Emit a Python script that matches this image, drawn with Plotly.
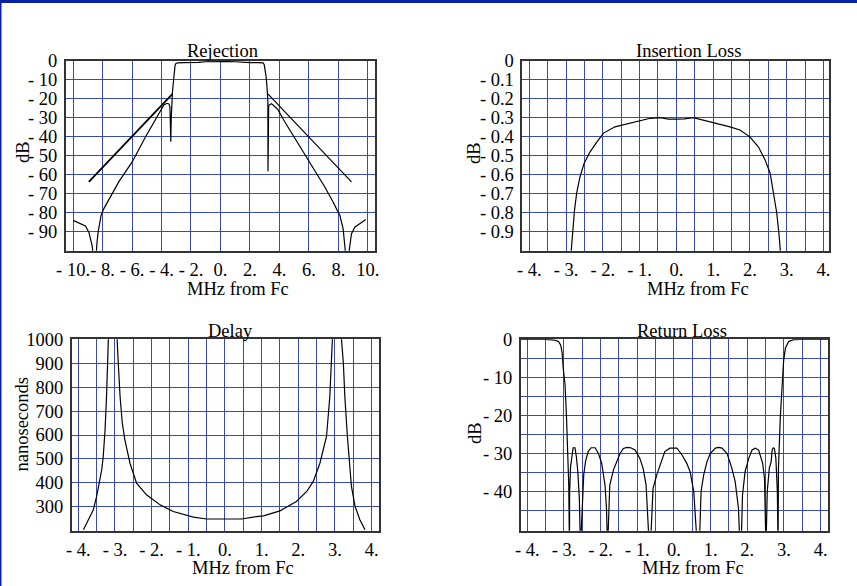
import plotly.graph_objects as go

W, H = 857, 586

# ---------------- data ----------------
# Rejection (dB vs MHz from Fc)
rej_freq = [-10.0, -9.61, -9.16, -8.93, -8.71, -8.6, -8.45, -8.38, -8.30, -8.1, -7.91, -6.9, -5.99, -5.08,
            -4.52, -4.06, -3.84, -3.62, -3.50, -3.43, -3.39, -3.37, -3.34, -3.30, -3.25, -3.20, -3.14,
            -3.08, -3.02, -2.9, -2.5, -2.0, -1.5, -1.0, -0.5, 0.0, 0.5, 1.0, 1.5, 2.0, 2.5, 2.89,
            2.97, 3.03, 3.10, 3.15, 3.19, 3.215, 3.225, 3.24, 3.27, 3.34, 3.45, 3.57, 3.91, 4.36, 5.27,
            6.17, 7.08, 7.64, 8.1, 8.32, 8.44, 8.52, 8.66, 8.78, 8.89, 9.11, 9.46, 9.86]
rej_db = [-84.0, -85.4, -87.0, -90.2, -97.2, -104, -104, -96, -90.2, -81.4, -77.8, -63.7, -53.2, -39.9,
          -32.0, -25.8, -23.2, -22.3, -22.6, -24.0, -32.0, -42.6, -30.0, -20.0, -15.5, -11.7, -4.7,
          -2.2, -1.3, -1.0, -0.9, -0.9, -0.7, -0.4, -0.3, -0.3, -0.3, -0.4, -0.7, -0.9, -0.9, -1.0,
          -2.0, -4.5, -8.5, -13.0, -17.5, -21.0, -58.1, -30.0, -23.5, -23.0, -22.5, -23.2, -25.8, -32.0, -43.5,
          -54.9, -66.4, -74.3, -81.4, -88.4, -95.5, -104, -104, -95.5, -91.0, -87.6, -85.8, -83.6]
mask_left_freq = [-8.93, -3.27]
mask_left_db = [-63.7, -17.5]
mask_right_freq = [3.23, 8.89]
mask_right_db = [-17.5, -63.7]

# Insertion loss
il_freq = [-2.88, -2.82, -2.77, -2.71, -2.62, -2.51, -2.35, -2.16, -1.98, -1.67, -1.26, -0.99, -0.71,
           -0.44, -0.22, 0.0, 0.22, 0.46, 0.73, 1.0, 1.46, 1.73, 2.0, 2.23, 2.41, 2.55, 2.64, 2.73,
           2.79, 2.85]
il_db = [-1.05, -0.89, -0.786, -0.695, -0.61, -0.54, -0.48, -0.426, -0.38, -0.347, -0.329, -0.315,
         -0.302, -0.299, -0.306, -0.306, -0.305, -0.299, -0.311, -0.325, -0.347, -0.364, -0.40, -0.452,
         -0.52, -0.59, -0.70, -0.80, -0.91, -1.05]

# Group delay (ns)
delay_freq = [-3.86, -3.73, -3.59, -3.50, -3.41, -3.36, -3.32, -3.27, -3.23, -3.20, -3.18, -3.16, None,
              -2.92, -2.94, -2.91, -2.86, -2.80, -2.73, -2.59, -2.41, -2.14, -1.77, -1.41, -0.86, -0.5,
              0.0, 0.45, 0.77, 1.05, 1.5, 1.95, 2.23, 2.41, 2.59, 2.77, 2.86, 2.91, 2.94, 2.96, None,
              3.16, 3.18, 3.23, 3.27, 3.34, 3.39, 3.45, 3.55, 3.68, 3.82]
delay_ns = [204, 246, 287, 343, 413, 455, 510, 621, 760, 900, 997, 1100, None,
            1100, 997, 900, 760, 650, 580, 482, 399, 350, 308, 280, 257, 249,
            249, 249, 257, 262, 283, 322, 364, 406, 482, 594, 760, 900, 997, 1100, None,
            1100, 997, 900, 760, 594, 482, 385, 301, 246, 204]

# Return loss
rl_freq = [-4.18, -3.5, -3.25, -3.15, -3.09, -3.05, -3.02, -2.97, -2.93, -2.90, -2.87, -2.85,
           -2.845, -2.82, -2.78, -2.75, -2.70, -2.66, -2.62, -2.58, -2.55,
           -2.50, -2.46, -2.41, -2.34, -2.26, -2.15, -2.06, -1.97, -1.88, -1.84, -1.81,
           -1.78, -1.75, -1.65, -1.56, -1.47, -1.38, -1.28, -1.18, -1.06, -0.93, -0.84, -0.76, -0.71, -0.67, -0.63,
           -0.57, -0.47, -0.38, -0.25, -0.11, 0.0, 0.08, 0.22, 0.35, 0.44, 0.54, 0.62, 0.66, 0.70,
           0.74, 0.81, 0.9, 0.99, 1.13, 1.22, 1.31, 1.45, 1.58, 1.67, 1.76, 1.79, 1.815, 1.84,
           1.87, 1.94, 2.04, 2.13, 2.22, 2.31, 2.35, 2.42, 2.47, 2.51,
           2.545, 2.6, 2.65, 2.68, 2.71, 2.74, 2.78, 2.82, 2.84,
           2.85, 2.9, 2.95, 2.99, 3.04, 3.13, 3.26, 3.5, 4.21]
rl_db = [0, 0, -0.2, -0.6, -1.5, -3.5, -7.6, -12, -20.7, -29.5, -38, -55,
         -40, -33.5, -30, -28.5, -28.5, -31, -35, -42, -55,
         -42, -35.5, -32, -29.5, -28.5, -28.5, -30, -32.6, -38.3, -44.4, -55,
         -44, -38.3, -34.3, -32.2, -30, -28.7, -28.4, -28.5, -29.1, -31.3, -33.9, -38.3, -52, -55, -52,
         -39.2, -35.7, -33, -29.5, -28.6, -28.5, -28.6, -30.4, -32.6, -34.8, -40, -52, -55, -52,
         -40, -35.7, -32.2, -30, -28.6, -28.4, -28.6, -30, -33.9, -37.4, -44.4, -52, -55, -52,
         -40.9, -34.8, -31.3, -29.1, -28.6, -29.1, -30.4, -32.6, -36.5, -55,
         -40, -33.9, -32.2, -29, -28.5, -28.7, -31.3, -40, -55,
         -34, -20.7, -12, -5.8, -2.3, -0.6, -0.1, 0, 0]

# ticks
rej_xticks = [-10, -8, -6, -4, -2, 0, 2, 4, 6, 8, 10]
rej_xlabels = ["- 10.", "- 8.", "- 6.", "- 4.", "- 2.", "0.", "2.", "4.", "6.", "8.", "10."]
rej_yticks = [0, -10, -20, -30, -40, -50, -60, -70, -80, -90]
rej_ylabels = ["0", "- 10", "- 20", "- 30", "- 40", "- 50", "- 60", "- 70", "- 80", "- 90"]

half_ticks = [-4, -3.5, -3, -2.5, -2, -1.5, -1, -0.5, 0, 0.5, 1, 1.5, 2, 2.5, 3, 3.5, 4]
half_labels = ["- 4.", "", "- 3.", "", "- 2.", "", "- 1.", "", "0.", "", "1.", "", "2.", "", "3.", "", "4."]

il_yticks = [0, -0.1, -0.2, -0.3, -0.4, -0.5, -0.6, -0.7, -0.8, -0.9]
il_ylabels = ["0", "- 0.1", "- 0.2", "- 0.3", "- 0.4", "- 0.5", "- 0.6", "- 0.7", "- 0.8", "- 0.9"]

delay_yticks = [300, 400, 500, 600, 700, 800, 900, 1000]
delay_ylabels = ["300", "400", "500", "600", "700", "800", "900", "1000"]

rl_yticks = [0, -5, -10, -15, -20, -25, -30, -35, -40, -45]
rl_ylabels = ["0", "", "- 10", "", "- 20", "", "- 30", "", "- 40", ""]

# ---------------- figure ----------------
FONT = "Liberation Serif"
FS = 18.5
GRID = "#3a4bb0"
LINE = dict(color="black", width=1.2)


def px_x(v):
    return v / W


def px_y(v):
    return 1 - v / H


fig = go.Figure()
fig.add_trace(go.Scatter(x=rej_freq, y=rej_db, mode="lines", line=LINE, xaxis="x", yaxis="y"))
fig.add_trace(go.Scatter(x=mask_left_freq, y=mask_left_db, mode="lines", line=dict(color="black", width=1.8),
                         xaxis="x", yaxis="y"))
fig.add_trace(go.Scatter(x=mask_right_freq, y=mask_right_db, mode="lines", line=LINE, xaxis="x", yaxis="y"))
fig.add_trace(go.Scatter(x=il_freq, y=il_db, mode="lines", line=LINE, xaxis="x2", yaxis="y2"))
fig.add_trace(go.Scatter(x=delay_freq, y=delay_ns, mode="lines", line=LINE, connectgaps=False,
                         xaxis="x3", yaxis="y3"))
fig.add_trace(go.Scatter(x=rl_freq, y=rl_db, mode="lines", line=LINE, xaxis="x4", yaxis="y4"))


def axis(domain, rng, tickvals, ticktext, anchor, is_x):
    return dict(
        domain=domain, range=rng, anchor=anchor,
        tickmode="array", tickvals=tickvals, ticktext=ticktext,
        showline=True, linecolor="#333333", linewidth=1.5, mirror=True,
        showgrid=True, gridcolor=GRID, gridwidth=1.3, zeroline=False,
        ticks="outside", ticklen=1 if is_x else 3, tickcolor="rgba(0,0,0,0)",
        tickangle=0,
        tickfont=dict(family=FONT, size=FS, color="black"),
        automargin=False, fixedrange=True,
    )


# plot area boxes in pixels: (left, right, top, bottom)
boxes = {
    1: (65.7, 374.5, 61.0, 250.7),
    2: (522.3, 829.3, 61.0, 250.7),
    3: (71.7, 379.3, 339.3, 530.7),
    4: (520.7, 828.3, 339.3, 530.7),
}


def dom(k):
    l, r, t, b = boxes[k]
    return [px_x(l), px_x(r)], [px_y(b), px_y(t)]


dx1, dy1 = dom(1)
dx2, dy2 = dom(2)
dx3, dy3 = dom(3)
dx4, dy4 = dom(4)

fig.update_layout(
    width=W, height=H,
    margin=dict(l=0, r=0, t=0, b=0),
    paper_bgcolor="white", plot_bgcolor="white",
    showlegend=False,
    font=dict(family=FONT, size=FS, color="black"),
    xaxis=axis(dx1, [-10.5, 10.45], rej_xticks, rej_xlabels, "y", True),
    yaxis=axis(dy1, [-100, 0], rej_yticks, rej_ylabels, "x", False),
    xaxis2=axis(dx2, [-4.19, 4.16], half_ticks, half_labels, "y2", True),
    yaxis2=axis(dy2, [-1.0, 0], il_yticks, il_ylabels, "x2", False),
    xaxis3=axis(dx3, [-4.18, 4.21], half_ticks, half_labels, "y3", True),
    yaxis3=axis(dy3, [200, 1000], delay_yticks, delay_ylabels, "x3", False),
    xaxis4=axis(dx4, [-4.18, 4.21], half_ticks, half_labels, "y4", True),
    yaxis4=axis(dy4, [-50.3, 0], rl_yticks, rl_ylabels, "x4", False),
)

# text labels: (text, x_px, y_px, angle)
labels = [
    ("Rejection", 223, 51, 0),
    ("Insertion Loss", 688.5, 51, 0),
    ("Delay", 230, 331, 0),
    ("Return Loss", 682, 331, 0),
    ("MHz from Fc", 237.5, 288.5, 0),
    ("MHz from Fc", 698, 288.5, 0),
    ("MHz from Fc", 243, 568, 0),
    ("MHz from Fc", 692.5, 568, 0),
    ("dB", 23, 152, -90),
    ("dB", 474.5, 152.5, -90),
    ("nanoseconds", 21.5, 424, -90),
    ("dB", 474.5, 432.5, -90),
]
for text, x, y, ang in labels:
    fig.add_annotation(text=text, x=px_x(x), y=px_y(y), xref="paper", yref="paper",
                       xanchor="center", yanchor="middle", showarrow=False, textangle=ang,
                       font=dict(family=FONT, size=FS, color="black"))

# slide frame (blue band at top, thin line at left)
fig.add_shape(type="rect", xref="paper", yref="paper", x0=0, x1=1, y0=px_y(3), y1=1,
              fillcolor="#0a22a6", line=dict(width=0), layer="above")
fig.add_shape(type="rect", xref="paper", yref="paper", x0=0, x1=px_x(1.5), y0=0, y1=1,
              fillcolor="#0a22a6", line=dict(width=0), layer="above")

fig.write_html(
    "out.html",
    config={"displayModeBar": False},
    post_script="document.body.style.margin='0';document.body.style.padding='0';"
                "document.body.style.overflow='hidden';",
)
